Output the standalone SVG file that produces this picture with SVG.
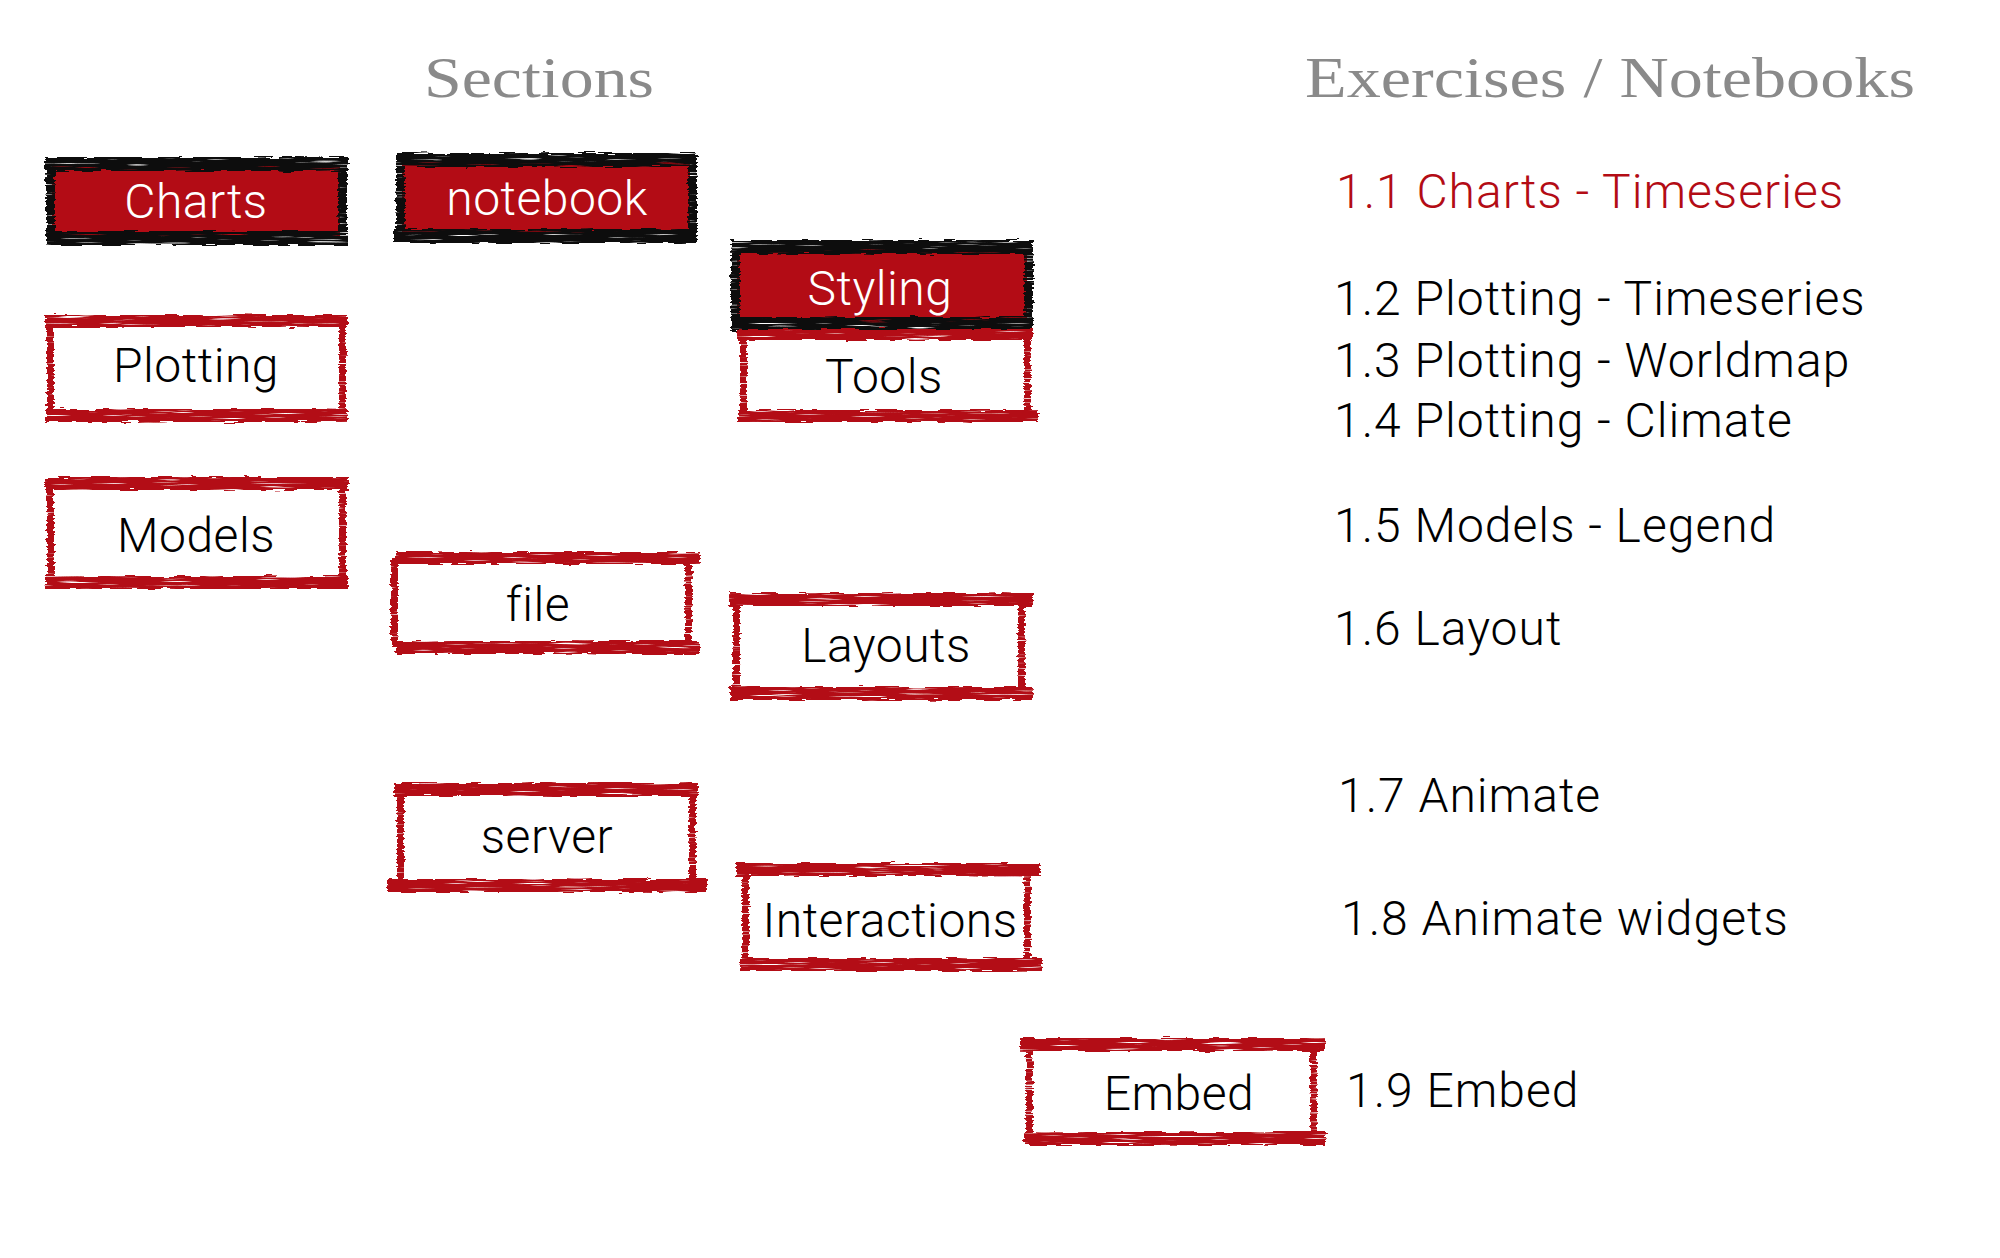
<svg xmlns="http://www.w3.org/2000/svg" width="2000" height="1258" viewBox="0 0 2000 1258">
<style>
  .lbl{font-family:Roboto,"Liberation Sans",sans-serif;font-weight:300;font-size:48px;text-anchor:middle;letter-spacing:0.5px}
  .wht{fill:#ffffff}
  .blk{fill:#000000}
  .item{font-family:Roboto,"Liberation Sans",sans-serif;font-weight:300;font-size:48px;fill:#000000;letter-spacing:1px}
  .hot{fill:#b30c15}
  .head{font-family:"Liberation Serif","DejaVu Serif",serif;font-size:56px;fill:#8a8a8a}
  .rb{fill:#b30c15}
  .kb{fill:#0a0a0a}
  .rf{fill:#b30c15}
</style>
<defs>
  <filter id="rough" x="-4%" y="-15%" width="108%" height="130%">
    <feTurbulence type="fractalNoise" baseFrequency="0.05 0.45" numOctaves="2" seed="4" result="n"/>
    <feDisplacementMap in="SourceGraphic" in2="n" scale="6" xChannelSelector="R" yChannelSelector="G" result="d"/>
    <feTurbulence type="fractalNoise" baseFrequency="0.02 0.9" numOctaves="2" seed="9" result="n2"/>
    <feColorMatrix in="n2" type="matrix" values="0 0 0 0 0  0 0 0 0 0  0 0 0 0 0  6 0 0 0 -1.2" result="mask"/>
    <feComposite in="d" in2="mask" operator="in"/>
  </filter>
</defs>
<rect width="2000" height="1258" fill="#ffffff"/>

<g id="headers">
  <text class="head" x="424" y="97" textLength="230" lengthAdjust="spacingAndGlyphs">Sections</text>
  <text class="head" x="1305" y="97" textLength="610" lengthAdjust="spacingAndGlyphs">Exercises / Notebooks</text>
</g>

<g id="connectors"></g>

<!-- filled boxes -->
<g id="node-charts">
  <rect class="rf" x="52" y="166" width="288" height="70"/>
  <g filter="url(#rough)" class="kb">
    <rect x="45" y="157" width="303" height="14"/>
    <rect x="46" y="231" width="302" height="14"/>
    <rect x="46" y="158" width="9" height="86"/>
    <rect x="338" y="158" width="9" height="86"/>
  </g>
  <text class="lbl wht" x="196" y="218">Charts</text>
</g>

<g id="node-notebook">
  <rect class="rf" x="402" y="162" width="288" height="72"/>
  <g filter="url(#rough)" class="kb">
    <rect x="396" y="153" width="301" height="14"/>
    <rect x="394" y="229" width="303" height="14"/>
    <rect x="396" y="154" width="9" height="88"/>
    <rect x="688" y="154" width="9" height="88"/>
  </g>
  <text class="lbl wht" x="547" y="215">notebook</text>
</g>

<g id="node-styling">
  <rect class="rf" x="737" y="249" width="290" height="74"/>
  <g filter="url(#rough)" class="kb">
    <rect x="731" y="240" width="302" height="14"/>
    <rect x="731" y="317" width="302" height="13"/>
    <rect x="731" y="241" width="9" height="89"/>
    <rect x="1024" y="241" width="9" height="89"/>
  </g>
  <text class="lbl wht" x="880" y="305">Styling</text>
</g>

<!-- outlined boxes -->
<g id="node-plotting">
  <g filter="url(#rough)" class="rb">
    <rect x="45" y="315" width="303" height="12"/>
    <rect x="46" y="409" width="302" height="13"/>
    <rect x="47" y="320" width="7" height="96"/>
    <rect x="339" y="320" width="7" height="96"/>
  </g>
  <text class="lbl blk" x="196" y="382">Plotting</text>
</g>

<g id="node-models">
  <g filter="url(#rough)" class="rb">
    <rect x="45" y="477" width="303" height="13"/>
    <rect x="46" y="576" width="302" height="13"/>
    <rect x="47" y="484" width="7" height="98"/>
    <rect x="339" y="484" width="7" height="98"/>
  </g>
  <text class="lbl blk" x="196" y="552">Models</text>
</g>

<g id="node-tools">
  <g filter="url(#rough)" class="rb">
    <rect x="737" y="329" width="296" height="11"/>
    <rect x="738" y="410" width="300" height="12"/>
    <rect x="740" y="332" width="7" height="84"/>
    <rect x="1024" y="332" width="7" height="84"/>
  </g>
  <text class="lbl blk" x="884" y="393">Tools</text>
</g>

<g id="node-file">
  <g filter="url(#rough)" class="rb">
    <rect x="396" y="552" width="304" height="12"/>
    <rect x="396" y="641" width="304" height="13"/>
    <rect x="391" y="557" width="7" height="90"/>
    <rect x="685" y="557" width="7" height="90"/>
  </g>
  <text class="lbl blk" x="538" y="621">file</text>
</g>

<g id="node-layouts">
  <g filter="url(#rough)" class="rb">
    <rect x="729" y="593" width="304" height="13"/>
    <rect x="730" y="687" width="303" height="13"/>
    <rect x="733" y="600" width="7" height="94"/>
    <rect x="1018" y="600" width="7" height="94"/>
  </g>
  <text class="lbl blk" x="886" y="662">Layouts</text>
</g>

<g id="node-server">
  <g filter="url(#rough)" class="rb">
    <rect x="394" y="783" width="304" height="13"/>
    <rect x="387" y="879" width="320" height="13"/>
    <rect x="397" y="790" width="7" height="94"/>
    <rect x="689" y="790" width="7" height="94"/>
  </g>
  <text class="lbl blk" x="547" y="853">server</text>
</g>

<g id="node-interactions">
  <g filter="url(#rough)" class="rb">
    <rect x="736" y="863" width="304" height="13"/>
    <rect x="740" y="958" width="302" height="13"/>
    <rect x="742" y="870" width="7" height="94"/>
    <rect x="1024" y="870" width="7" height="94"/>
  </g>
  <text class="lbl blk" x="890" y="937">Interactions</text>
</g>

<g id="node-embed">
  <g filter="url(#rough)" class="rb">
    <rect x="1020" y="1038" width="305" height="13"/>
    <rect x="1024" y="1132" width="302" height="13"/>
    <rect x="1026" y="1045" width="7" height="94"/>
    <rect x="1310" y="1045" width="7" height="94"/>
  </g>
  <text class="lbl blk" x="1179" y="1110">Embed</text>
</g>

<g id="exercises">
  <text class="item hot" x="1336" y="208">1.1 Charts - Timeseries</text>
  <text class="item" x="1334" y="315">1.2 Plotting - Timeseries</text>
  <text class="item" x="1334" y="377">1.3 Plotting - Worldmap</text>
  <text class="item" x="1334" y="437">1.4 Plotting - Climate</text>
  <text class="item" x="1334" y="542">1.5 Models - Legend</text>
  <text class="item" x="1334" y="645">1.6 Layout</text>
  <text class="item" x="1338" y="812">1.7 Animate</text>
  <text class="item" x="1341" y="935">1.8 Animate widgets</text>
  <text class="item" x="1346" y="1107">1.9 Embed</text>
</g>
</svg>
